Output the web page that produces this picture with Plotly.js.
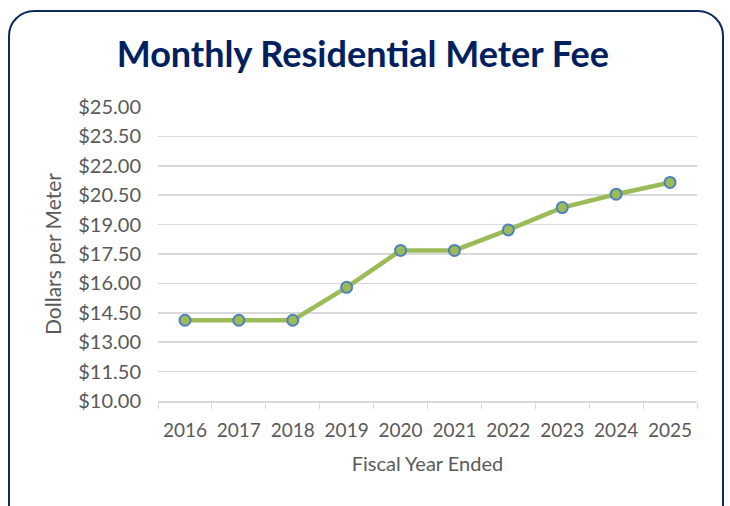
<!DOCTYPE html>
<html><head><meta charset="utf-8">
<script src="https://cdn.plot.ly/plotly-3.0.1.min.js"></script>
<style>
html,body{margin:0;padding:0;background:#fff;}
#wrap{position:relative;width:730px;height:506px;overflow:hidden;}
#chart{position:absolute;left:0;top:0;width:730px;height:506px;}
#frame{position:absolute;left:8px;top:10px;width:712px;height:520px;border:2px solid #0d2a5e;border-radius:26px;pointer-events:none;}
</style></head>
<body>
<div id="wrap"><div id="chart"></div><div id="frame"></div></div>
<script>
const years = ['2016','2017','2018','2019','2020','2021','2022','2023','2024','2025'];
const fees = [14.12, 14.12, 14.12, 15.80, 17.68, 17.68, 18.73, 19.87, 20.55, 21.15];
const yTicks = [10, 11.5, 13, 14.5, 16, 17.5, 19, 20.5, 22, 23.5, 25];

const trace = {
  x: years, y: fees, type: 'scatter', mode: 'lines+markers',
  line: {color: '#9bbb59', width: 4.5},
  marker: {color: '#9bbb59', size: 11, line: {color: '#4f81bd', width: 2}}
};
const layout = {
  width: 730, height: 506,
  margin: {l: 158, r: 33, t: 107, b: 105},
  paper_bgcolor: 'rgba(0,0,0,0)', plot_bgcolor: '#fff',
  showlegend: false,
  font: {family: 'Lato, sans-serif', color: '#595959', size: 20},
  title: {text: '<b>Monthly Residential Meter Fee</b>', font: {family: 'Lato, sans-serif', size: 36, color: '#002060'},
          x: 0.497, xanchor: 'center', y: 0.892, yanchor: 'middle'},
  xaxis: {type: 'category', range: [-0.5, 9.5], tickson: 'boundaries', ticks: 'outside', ticklen: 6,
          tickcolor: '#d9d9d9', showline: true, linecolor: '#d9d9d9', linewidth: 1.5, showgrid: false,
          tickangle: 0, tickfont: {size: 19, color: '#595959'}, ticklabelstandoff: 12,
          title: {text: 'Fiscal Year Ended', font: {size: 20, color: '#595959'}, standoff: 16}},
  yaxis: {range: [10, 25], tickvals: yTicks, ticktext: yTicks.map(v => '$' + v.toFixed(2)),
          showgrid: true, gridcolor: '#d9d9d9', gridwidth: 1.5, zeroline: false, showline: false,
          ticks: '', ticklabelstandoff: 16,
          tickfont: {size: 20, color: '#595959'},
          title: {text: 'Dollars per Meter', font: {size: 21, color: '#595959'}, standoff: 10}}
};
Plotly.newPlot('chart', [trace], layout, {displayModeBar: false, staticPlot: true});
</script>
</body></html>
